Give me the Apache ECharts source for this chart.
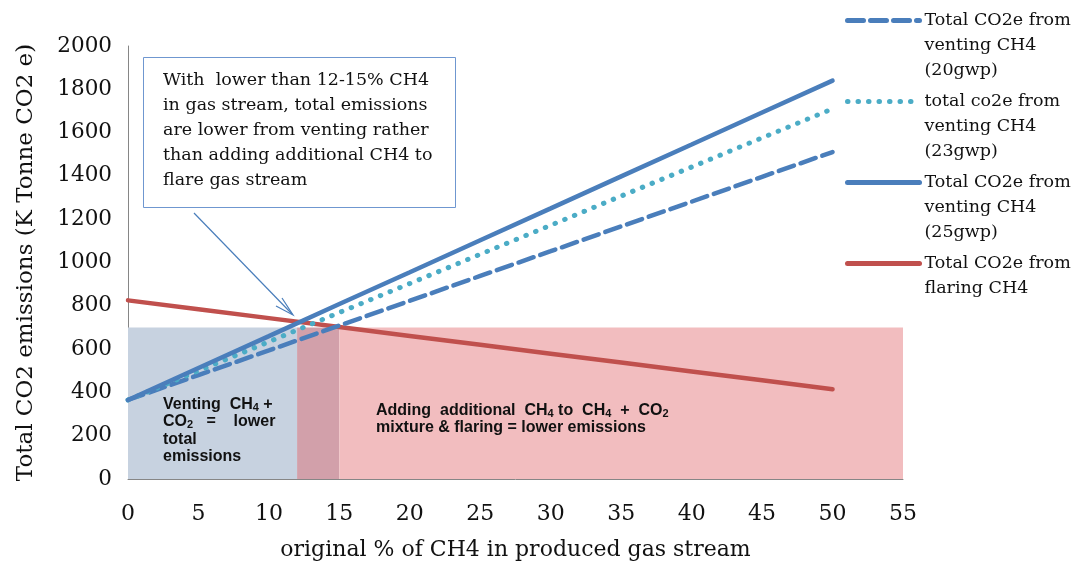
<!DOCTYPE html>
<html>
<head>
<meta charset="utf-8">
<script src="https://cdn.jsdelivr.net/npm/echarts@6/dist/echarts.min.js"></script>
<style>html,body{margin:0;padding:0;background:#fff}#c{width:1077px;height:566px}</style>
</head>
<body>
<div id="c"></div>
<script>
// ---- data ----
const xValues = [0, 5, 10, 15, 20, 25, 30, 35, 40, 45, 50];
const vent20 = [365, 480, 594, 709, 823, 938, 1052, 1167, 1281, 1396, 1510];
const vent23 = [365, 500, 634, 769, 903, 1038, 1172, 1307, 1441, 1576, 1710];
const vent25 = [365, 513, 660, 808, 955, 1103, 1250, 1398, 1545, 1693, 1840];
const flare  = [825, 784, 743, 702, 661, 620, 579, 538, 497, 456, 415];
const seriesNames = [
  'Total CO2e from\nventing CH4\n(20gwp)',
  'total co2e from\nventing CH4\n(23gwp)',
  'Total CO2e from\nventing CH4\n(25gwp)',
  'Total CO2e from\nflaring CH4'
];
const regionBreaks = [0, 12, 15, 55];   // x limits of shaded zones
const regionTop = 700;                   // top of shaded zones
const xAxisRange = [0, 55, 5];
const yAxisRange = [0, 2000, 200];

const serif = 'DejaVu Serif';
const pts = arr => xValues.map((x, i) => [x, arr[i]]);

const chart = echarts.init(document.getElementById('c'));

// pad each legend label to 5 lines so the icon sits beside its first line
const legendFormatter = name => {
  const n = name.split('\n').length;
  return '\n\n' + name + '\n'.repeat(3 - n);
};

const rich = {
  b: { fontFamily: 'Liberation Sans', fontWeight: 'bold', fontSize: 16, lineHeight: 17.5, fill: '#111' },
  s: { fontFamily: 'Liberation Sans', fontWeight: 'bold', fontSize: 11, lineHeight: 17.5, fill: '#111', verticalAlign: 'bottom', padding: [6, 0, 0, 0] }
};

chart.setOption({
  animation: false,
  grid: { left: 128, right: 174, top: 46, bottom: 87 },
  xAxis: {
    type: 'value', min: xAxisRange[0], max: xAxisRange[1], interval: xAxisRange[2],
    name: 'original % of CH4 in produced gas stream', nameLocation: 'middle', nameGap: 60,
    nameTextStyle: { fontFamily: serif, fontSize: 22, color: '#111' },
    axisLine: { lineStyle: { color: '#868686', width: 1 } },
    axisTick: { show: false },
    splitLine: { show: false },
    axisLabel: { fontFamily: serif, fontSize: 22, color: '#111', margin: 24 }
  },
  yAxis: {
    type: 'value', min: yAxisRange[0], max: yAxisRange[1], interval: yAxisRange[2],
    name: 'Total CO2 emissions (K Tonne CO2 e)', nameLocation: 'middle', nameGap: 90,
    nameTextStyle: { fontFamily: serif, fontSize: 23, color: '#111' },
    axisLine: { show: true, lineStyle: { color: '#868686', width: 1 } },
    axisTick: { show: false },
    splitLine: { show: false },
    axisLabel: { fontFamily: serif, fontSize: 21.5, color: '#111', margin: 16, formatter: v => String(v) }
  },
  legend: {
    orient: 'vertical', left: 845, top: -42, padding: 0,
    itemWidth: 72, itemHeight: 12, itemGap: -44,
    itemStyle: { opacity: 0 },
    lineStyle: { width: 5 },
    formatter: legendFormatter,
    textStyle: { fontFamily: serif, fontSize: 17.5, lineHeight: 25, color: '#111' },
    data: seriesNames
  },
  series: [
    {
      name: seriesNames[3], type: 'line', data: pts(flare), symbol: 'none', z: 3,
      lineStyle: { color: '#c0504d', width: 4.5, cap: 'round' },
      itemStyle: { color: '#c0504d' },
      markArea: {
        silent: true,
        data: [
          [{ xAxis: regionBreaks[0], yAxis: 0, itemStyle: { color: '#c7d2e0' } }, { xAxis: regionBreaks[1], yAxis: regionTop }],
          [{ xAxis: regionBreaks[1], yAxis: 0, itemStyle: { color: '#d2a0aa' } }, { xAxis: regionBreaks[2], yAxis: regionTop }],
          [{ xAxis: regionBreaks[2], yAxis: 0, itemStyle: { color: '#f2bdbf' } }, { xAxis: regionBreaks[3], yAxis: regionTop }]
        ]
      }
    },
    {
      name: seriesNames[0], type: 'line', data: pts(vent20), symbol: 'none', z: 4,
      lineStyle: { color: '#4a7ebb', width: 4.5, type: [16, 7], cap: 'round' },
      itemStyle: { color: '#4a7ebb' }
    },
    {
      name: seriesNames[1], type: 'line', data: pts(vent23), symbol: 'none', z: 4,
      lineStyle: { color: '#4bacc6', width: 5, type: [0.5, 10], cap: 'round' },
      itemStyle: { color: '#4bacc6' }
    },
    {
      name: seriesNames[2], type: 'line', data: pts(vent25), symbol: 'none', z: 5,
      lineStyle: { color: '#4a7ebb', width: 4.5, cap: 'round' },
      itemStyle: { color: '#4a7ebb' }
    }
  ],
  graphic: [
    {
      type: 'rect', z: 100,
      shape: { x: 143.5, y: 57.5, width: 312, height: 150 },
      style: { fill: '#fff', stroke: '#6f97d0', lineWidth: 1 }
    },
    {
      type: 'text', z: 101, left: 163, top: 68,
      style: {
        text: 'With  lower than 12-15% CH4\nin gas stream, total emissions\nare lower from venting rather\nthan adding additional CH4 to\nflare gas stream',
        fontFamily: serif, fontSize: 17.5, lineHeight: 25, fill: '#111'
      }
    },
    {
      type: 'line', z: 101,
      shape: { x1: 194, y1: 213, x2: 292, y2: 314 },
      style: { stroke: '#4a7ebb', lineWidth: 1.2 }
    },
    {
      type: 'polyline', z: 101,
      shape: { points: [[282, 298], [293, 315], [276, 306]] },
      style: { stroke: '#4a7ebb', lineWidth: 1.2, fill: null }
    },
    {
      type: 'text', z: 101, left: 163, top: 396,
      style: {
        text: '{b|Venting  CH}{s|4}{b| +}\n{b|CO}{s|2}{b|   =    lower}\n{b|total}\n{b|emissions}',
        rich
      }
    },
    {
      type: 'text', z: 101, left: 376, top: 402,
      style: {
        text: '{b|Adding  additional  CH}{s|4}{b| to  CH}{s|4}{b|  +  CO}{s|2}\n{b|mixture & flaring = lower emissions}',
        rich
      }
    }
  ]
});
</script>
</body>
</html>
